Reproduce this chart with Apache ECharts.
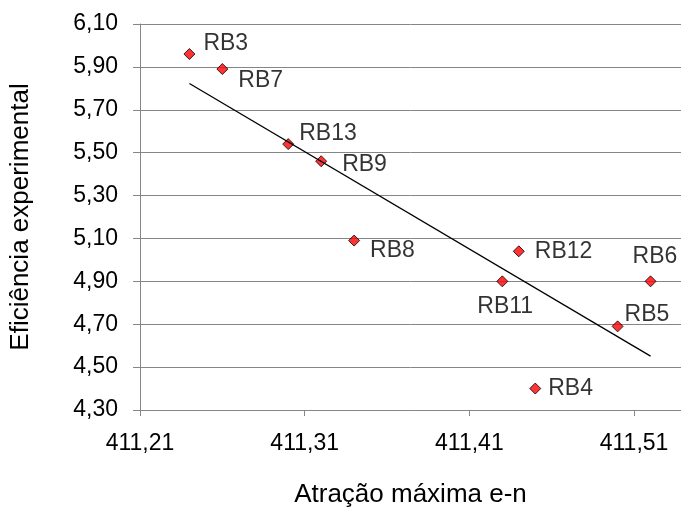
<!DOCTYPE html>
<html>
<head>
<meta charset="utf-8">
<script src="https://cdn.jsdelivr.net/npm/echarts@6/dist/echarts.min.js"></script>
<style>
  html, body { margin: 0; padding: 0; background: #fff; }
  #chart { width: 681px; height: 513px; }
</style>
</head>
<body>
<div id="chart"></div>
<script>
// ---- data ----
const names   = ['RB3', 'RB7', 'RB13', 'RB9', 'RB8', 'RB12', 'RB11', 'RB6', 'RB5', 'RB4'];
const xValues = [411.24, 411.26, 411.30, 411.32, 411.34, 411.44, 411.43, 411.52, 411.50, 411.45];
const yValues = [5.96, 5.89, 5.54, 5.46, 5.09, 5.04, 4.90, 4.90, 4.69, 4.40];
const xTicks  = [411.21, 411.31, 411.41, 411.51];
const yTicks  = [4.30, 4.50, 4.70, 4.90, 5.10, 5.30, 5.50, 5.70, 5.90, 6.10];
const xTitle  = 'Atração máxima e-n';
const yTitle  = 'Eficiência experimental';

// ---- label placement (style only) ----
const labelOffsets = {
  RB3: [3, -10], RB7: [5, 12], RB13: [0, -10], RB9: [10, 3], RB8: [5, 10],
  RB12: [5, 0], RB11: [-36, 25], RB6: [-29, -25], RB5: [-4, -12], RB4: [2, 0]
};

// ---- linear trendline (least squares from the data) ----
const n = xValues.length;
const mx = xValues.reduce((a, b) => a + b, 0) / n;
const my = yValues.reduce((a, b) => a + b, 0) / n;
let sxy = 0, sxx = 0;
for (let i = 0; i < n; i++) { sxy += (xValues[i] - mx) * (yValues[i] - my); sxx += (xValues[i] - mx) ** 2; }
const slope = sxy / sxx, icpt = my - slope * mx;
const xMinD = Math.min(...xValues), xMaxD = Math.max(...xValues);
const trend = [[xMinD, icpt + slope * xMinD], [xMaxD, icpt + slope * xMaxD]];

const fmt = v => v.toFixed(2).replace('.', ',');
const FONT = 'Liberation Sans, Arial, sans-serif';
const AX = '#868686';

const chart = echarts.init(document.getElementById('chart'), null, { renderer: 'canvas' });
chart.setOption({
  animation: false,
  backgroundColor: '#fff',
  grid: { left: 140, right: 0, top: 24, bottom: 100, containLabel: false },
  xAxis: {
    type: 'value',
    min: xTicks[0],
    max: xTicks[0] + 0.3285,
    interval: xTicks[1] - xTicks[0],
    name: xTitle,
    nameLocation: 'middle',
    nameGap: 72,
    nameTextStyle: { fontSize: 26, color: '#000', fontFamily: FONT },
    axisLine: { show: true, lineStyle: { color: AX, width: 1 } },
    axisTick: { show: true, inside: false, length: 6, lineStyle: { color: AX } },
    axisLabel: { formatter: fmt, fontSize: 23, color: '#000', fontFamily: FONT, margin: 22, showMaxLabel: false },
    splitLine: { show: false }
  },
  yAxis: {
    type: 'value',
    min: yTicks[0],
    max: yTicks[yTicks.length - 1],
    interval: yTicks[1] - yTicks[0],
    name: yTitle,
    nameLocation: 'middle',
    nameGap: 106,
    nameRotate: 90,
    nameTextStyle: { fontSize: 26, color: '#000', fontFamily: FONT },
    axisLine: { show: true, lineStyle: { color: AX, width: 1 } },
    axisTick: { show: true, inside: false, length: 7, lineStyle: { color: AX } },
    axisLabel: { formatter: fmt, fontSize: 23, color: '#000', fontFamily: FONT, margin: 22 },
    splitLine: { show: true, lineStyle: { color: AX, width: 1 } }
  },
  series: [
    {
      type: 'scatter',
      symbol: 'diamond',
      symbolSize: 11,
      z: 2,
      itemStyle: { color: '#ff0000', borderColor: '#000', borderWidth: 1 },
      label: {
        show: true, position: 'right', distance: 5, formatter: '{b}',
        fontSize: 23, color: '#000', fontFamily: FONT
      },
      data: names.map((nm, i) => ({ name: nm, value: [xValues[i], yValues[i]], label: { offset: labelOffsets[nm] } }))
    },
    {
      type: 'line',
      data: trend,
      symbol: 'none',
      silent: true,
      z: 3,
      lineStyle: { color: '#000', width: 1.3 }
    }
  ]
});
</script>
</body>
</html>
